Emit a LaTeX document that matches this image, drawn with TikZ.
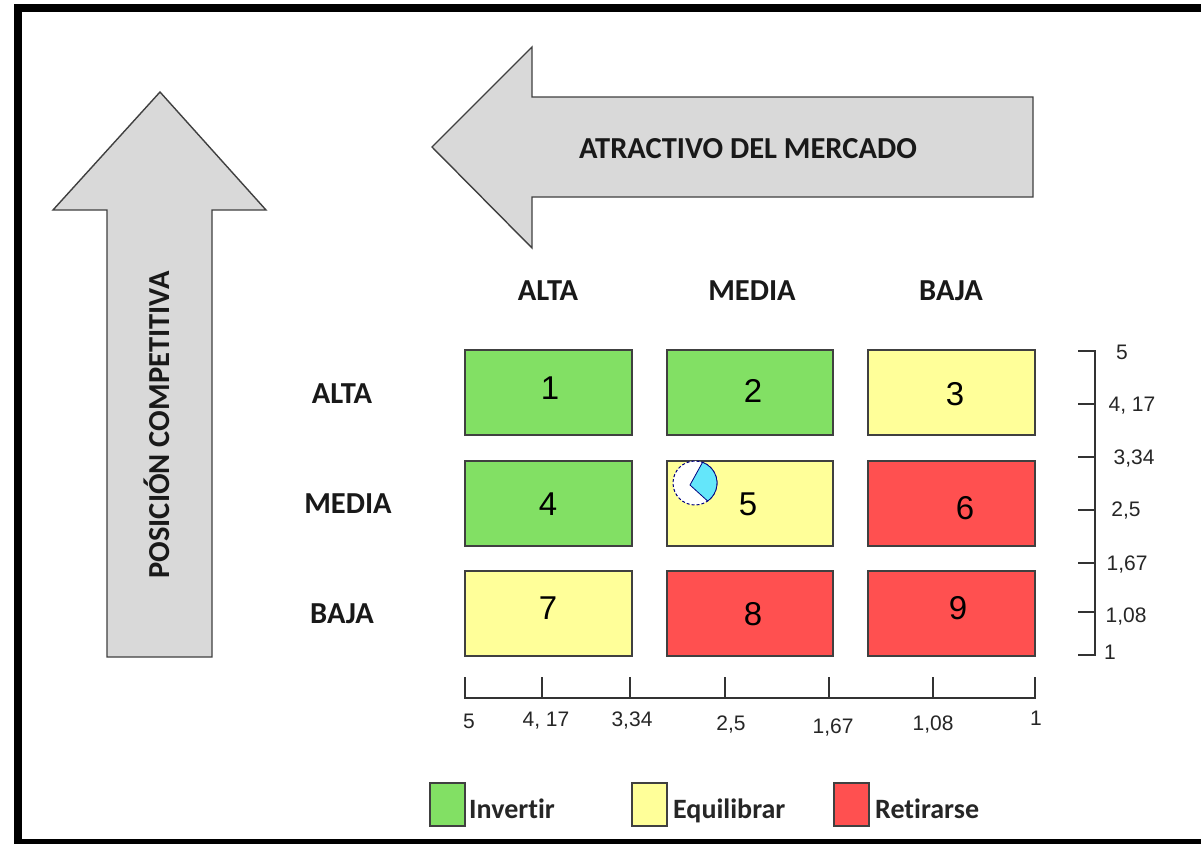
\documentclass[tikz,border=0pt]{standalone}
\usepackage{fontspec}
\usetikzlibrary{calc}
\setmainfont{Liberation Sans}
\newfontfamily\calb{Carlito}[BoldFont={* Bold},Ligatures=NoCommon]
\definecolor{gbox}{RGB}{130,224,100}
\definecolor{ybox}{RGB}{255,255,153}
\definecolor{rbox}{RGB}{255,80,80}
\definecolor{arrgray}{RGB}{217,217,217}
\definecolor{piecyan}{RGB}{100,230,250}
\begin{document}
\begin{tikzpicture}[x=1pt,y=-1pt,
  bigarrow/.style={fill=arrgray,draw=black!75,line width=1.4pt,line join=miter},
  cell/.style={draw=black!75,line width=1.3pt},
  lbl/.style={font=\calb\bfseries\fontsize{30.5}{32}\selectfont,inner sep=0pt,text=black!90},
  num/.style={font=\fontsize{33}{35}\selectfont,inner sep=0pt},
  axl/.style={font=\fontsize{21}{22}\selectfont,inner sep=0pt,text=black!85},
  axis/.style={draw=black!80,line width=1.3pt},
  leg/.style={font=\calb\bfseries\fontsize{28}{30}\selectfont,inner sep=0pt,anchor=base west,text=black!85}]
\useasboundingbox (0,0) rectangle (1201,843);
\clip (0,0) rectangle (1201,843);
\fill[white] (0,0) rectangle (1201,843);
\draw[line width=8pt] (18,8) rectangle (1230,843);

% up arrow
\draw[bigarrow] (160,92) -- (266,210) -- (212,210) -- (212,657) -- (107,657) -- (107,210) -- (53,210) -- cycle;
\node[lbl,rotate=90] (pc) at (157,425) {POSICIÓN COMPETITIVA};

% left arrow
\draw[bigarrow] (432,147) -- (532,47) -- (532,97) -- (1033,97) -- (1033,197) -- (532,197) -- (532,248) -- cycle;
\node[lbl] (am) at (748,149) {ATRACTIVO DEL MERCADO};

% column headers
\node[lbl] (ca) at (548,291) {ALTA};
\node[lbl] (cm) at (752,291) {MEDIA};
\node[lbl] (cb) at (951,291) {BAJA};
% row headers
\node[lbl] (ra) at (342,394) {ALTA};
\node[lbl] (rm) at (348,504) {MEDIA};
\node[lbl] (rb) at (342,614) {BAJA};

% cells
\draw[cell,fill=gbox] (465,350) rectangle (632,435);
\draw[cell,fill=gbox] (667,350) rectangle (833,435);
\draw[cell,fill=ybox] (868,350) rectangle (1035,435);
\draw[cell,fill=gbox] (465,461) rectangle (632,546);
\draw[cell,fill=ybox] (667,461) rectangle (833,546);
\draw[cell,fill=rbox] (868,461) rectangle (1035,546);
\draw[cell,fill=ybox] (465,571) rectangle (632,656);
\draw[cell,fill=rbox] (667,571) rectangle (833,656);
\draw[cell,fill=rbox] (868,571) rectangle (1035,656);

\node[num] (n1) at (550,388) {1};
\node[num] (n2) at (753,391) {2};
\node[num] (n3) at (955,394) {3};
\node[num] (n4) at (548,504) {4};
\node[num] (n5) at (748,504) {5};
\node[num] (n6) at (965,508) {6};
\node[num] (n7) at (548,608) {7};
\node[num] (n8) at (753,614) {8};
\node[num] (n9) at (958,608) {9};

% pie marker
\draw[draw=blue!50!black,line width=1pt,densely dashed,fill=white] (695,483) circle[radius=22];
\fill[piecyan,draw=blue!50!black,line width=0.8pt] (690,485) -- ($(695,483)+(-70:22)$) arc[start angle=-70,end angle=55,radius=22] -- cycle;

% right axis
\draw[axis] (1078,351) -- (1095,351) -- (1095,655) -- (1078,655);
\foreach \yy in {404,457,510,563,612} \draw[axis] (1078,\yy) -- (1095,\yy);
\node[axl] (r1) at (1122,352) {5};
\node[axl] (r2) at (1132,406) {4, 17};
\node[axl] (r3) at (1134,459) {3,34};
\node[axl] (r4) at (1126,511) {2,5};
\node[axl] (r5) at (1127,565) {1,67};
\node[axl] (r6) at (1126,617) {1,08};
\node[axl] (r7) at (1110,652) {1};

% bottom axis
\draw[axis] (465,677) -- (465,698) -- (1035,698) -- (1035,677);
\foreach \xx in {542,630,725,829,933} \draw[axis] (\xx,677) -- (\xx,698);
\node[axl] (b1) at (469,721) {5};
\node[axl] (b2) at (546,721) {4, 17};
\node[axl] (b3) at (632,721) {3,34};
\node[axl] (b4) at (731,725) {2,5};
\node[axl] (b5) at (833,728) {1,67};
\node[axl] (b6) at (933,725) {1,08};
\node[axl] (b7) at (1036,718) {1};

% legend
\draw[cell,fill=gbox] (430,783) rectangle (465,826);
\node[leg] (l1) at (469,818) {Invertir};
\draw[cell,fill=ybox] (632,783) rectangle (667,826);
\node[leg] (l2) at (673,818) {Equilibrar};
\draw[cell,fill=rbox] (834,783) rectangle (869,826);
\node[leg] (l3) at (875,818) {Retirarse};
\end{tikzpicture}
\end{document}
